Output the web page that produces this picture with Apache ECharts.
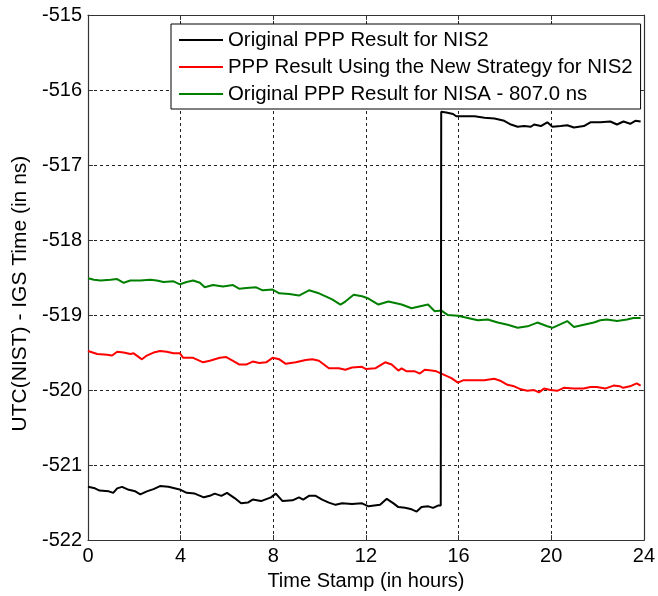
<!DOCTYPE html>
<html>
<head>
<meta charset="utf-8">
<script src="https://cdn.jsdelivr.net/npm/echarts@6/dist/echarts.min.js"></script>
<style>html,body{margin:0;padding:0;background:#fff}#c{width:658px;height:596px}</style>
</head>
<body>
<div id="c"></div>
<script>
var seriesNames = ['Original PPP Result for NIS2', 'PPP Result Using the New Strategy for NIS2', 'Original PPP Result for NISA - 807.0 ns'];
var xTicks = [0, 4, 8, 12, 16, 20, 24];
var yTicks = [-522, -521, -520, -519, -518, -517, -516, -515];

var blackHours = [0.00,0.30,0.50,0.90,1.09,1.26,1.47,1.76,2.04,2.26,2.54,2.83,3.11,3.47,4.00,4.26,4.61,5.00,5.26,5.47,5.76,6.00,6.33,6.61,6.90,7.11,7.47,7.90,8.11,8.40,8.83,9.11,9.29,9.54,9.83,10.11,10.40,10.69,10.97,11.40,11.83,12.11,12.61,12.90,13.19,13.40,13.69,13.97,14.19,14.40,14.69,14.90,15.11,15.23,15.25,15.47,15.76,15.90,16.26,16.69,17.12,17.55,17.97,18.26,18.55,18.83,19.12,19.26,19.55,19.83,20.05,20.41,20.69,20.98,21.41,21.69,22.12,22.55,22.84,23.12,23.41,23.63,23.86];
var blackValues = [-521.29,-521.31,-521.34,-521.35,-521.37,-521.31,-521.29,-521.33,-521.35,-521.39,-521.35,-521.32,-521.28,-521.29,-521.33,-521.37,-521.38,-521.43,-521.41,-521.38,-521.41,-521.37,-521.44,-521.51,-521.50,-521.46,-521.48,-521.43,-521.38,-521.48,-521.47,-521.43,-521.46,-521.41,-521.41,-521.46,-521.50,-521.53,-521.51,-521.52,-521.51,-521.55,-521.53,-521.45,-521.51,-521.56,-521.57,-521.59,-521.62,-521.56,-521.55,-521.57,-521.54,-521.54,-516.29,-516.30,-516.32,-516.35,-516.35,-516.35,-516.37,-516.38,-516.41,-516.46,-516.49,-516.48,-516.49,-516.46,-516.48,-516.43,-516.49,-516.48,-516.47,-516.50,-516.48,-516.43,-516.43,-516.42,-516.46,-516.42,-516.45,-516.41,-516.42];

var redHours = [0.00,0.40,0.83,1.04,1.26,1.54,1.83,1.97,2.33,2.54,2.83,3.11,3.40,3.69,3.97,4.11,4.54,4.97,5.26,5.69,5.97,6.26,6.54,6.83,7.11,7.40,7.69,7.97,8.26,8.54,8.97,9.40,9.69,9.97,10.40,10.83,11.11,11.40,11.83,12.00,12.40,12.83,13.11,13.40,13.54,13.76,14.11,14.33,14.54,14.83,15.04,15.11,15.33,15.69,15.97,16.19,16.54,16.97,17.11,17.54,17.83,18.11,18.40,18.69,18.97,19.26,19.47,19.69,19.97,20.26,20.54,20.97,21.40,21.69,21.97,22.33,22.69,22.97,23.11,23.40,23.69,23.86];
var redValues = [-519.48,-519.52,-519.53,-519.54,-519.49,-519.50,-519.52,-519.51,-519.59,-519.54,-519.50,-519.48,-519.49,-519.51,-519.51,-519.57,-519.57,-519.63,-519.61,-519.57,-519.56,-519.61,-519.66,-519.66,-519.62,-519.64,-519.63,-519.57,-519.59,-519.65,-519.63,-519.60,-519.59,-519.61,-519.71,-519.71,-519.73,-519.70,-519.69,-519.72,-519.71,-519.63,-519.66,-519.74,-519.71,-519.75,-519.75,-519.78,-519.73,-519.74,-519.75,-519.73,-519.79,-519.84,-519.90,-519.87,-519.87,-519.87,-519.87,-519.85,-519.88,-519.93,-519.95,-519.99,-520.01,-520.00,-520.03,-519.98,-520.00,-520.01,-519.97,-519.98,-519.98,-519.96,-519.96,-519.98,-519.94,-519.95,-519.97,-519.95,-519.91,-519.94];

var greenHours = [0.00,0.26,0.54,0.97,1.26,1.54,1.83,2.26,2.69,2.97,3.26,3.69,3.97,4.26,4.54,4.83,5.04,5.40,5.83,6.26,6.54,6.83,7.26,7.54,7.97,8.26,8.69,9.11,9.54,9.97,10.26,10.54,10.90,11.11,11.47,11.83,12.11,12.54,12.97,13.54,13.97,14.25,14.68,14.97,15.26,15.54,15.97,16.40,16.83,17.26,17.69,18.12,18.55,18.98,19.40,19.83,20.05,20.41,20.69,20.98,21.41,21.84,22.12,22.41,22.84,23.27,23.55,23.86];
var greenValues = [-518.51,-518.53,-518.54,-518.53,-518.52,-518.57,-518.54,-518.54,-518.53,-518.54,-518.56,-518.55,-518.59,-518.56,-518.54,-518.57,-518.63,-518.60,-518.62,-518.60,-518.65,-518.64,-518.63,-518.67,-518.66,-518.71,-518.72,-518.74,-518.67,-518.71,-518.75,-518.79,-518.86,-518.82,-518.73,-518.75,-518.78,-518.86,-518.82,-518.86,-518.91,-518.89,-518.86,-518.95,-518.94,-519.00,-519.01,-519.04,-519.07,-519.06,-519.10,-519.13,-519.17,-519.15,-519.10,-519.15,-519.17,-519.12,-519.08,-519.16,-519.13,-519.10,-519.07,-519.06,-519.08,-519.06,-519.04,-519.04];

function zip(xs, ys) { return xs.map(function (x, i) { return [x, ys[i]]; }); }

var FONT = 'Arial, "Liberation Sans", sans-serif';
var chart = echarts.init(document.getElementById('c'), null, { renderer: 'canvas' });
var gridLine = { show: true, lineStyle: { color: '#222', type: [3, 3], width: 1 } };
var tickIn = { show: true, inside: true, length: 5, lineStyle: { color: '#333' } };
var frame = { show: true, onZero: false, lineStyle: { color: '#333', width: 1.2 } };

chart.setOption({
  animation: false,
  backgroundColor: '#fff',
  grid: { left: 88, right: 11, top: 15, bottom: 52, containLabel: false },
  legend: {
    data: seriesNames,
    orient: 'vertical', left: 171, top: 24,
    padding: [6, 8, 5, 8], itemGap: 7, itemWidth: 44, itemHeight: 2,
    icon: 'rect', align: 'left',
    backgroundColor: '#fff', borderColor: '#000', borderWidth: 1,
    textStyle: { fontSize: 20.4, fontFamily: FONT, color: '#000', lineHeight: 20 }
  },
  xAxis: [{
    type: 'value', min: xTicks[0], max: xTicks[xTicks.length - 1], interval: 4,
    name: 'Time Stamp (in hours)', nameLocation: 'middle', nameGap: 23,
    nameTextStyle: { fontSize: 20, fontFamily: FONT, color: '#000' },
    axisLine: frame, axisTick: tickIn, splitLine: gridLine,
    axisLabel: { fontSize: 20, fontFamily: FONT, color: '#000', margin: 6 }
  }, {
    type: 'value', position: 'top', min: xTicks[0], max: xTicks[xTicks.length - 1], interval: 4,
    axisLine: frame, axisTick: tickIn, splitLine: { show: false }, axisLabel: { show: false }
  }],
  yAxis: [{
    type: 'value', min: yTicks[0], max: yTicks[yTicks.length - 1], interval: 1,
    name: 'UTC(NIST) - IGS Time (in ns)', nameLocation: 'middle', nameGap: 56,
    nameTextStyle: { fontSize: 21, fontFamily: FONT, color: '#000', padding: [0, 32, 0, 0] },
    axisLine: frame, axisTick: tickIn, splitLine: gridLine,
    axisLabel: { fontSize: 20, fontFamily: FONT, color: '#000', margin: 6 }
  }, {
    type: 'value', position: 'right', min: yTicks[0], max: yTicks[yTicks.length - 1], interval: 1,
    axisLine: frame, axisTick: tickIn, splitLine: { show: false }, axisLabel: { show: false }
  }],
  series: [
    { name: seriesNames[2], type: 'line', data: zip(greenHours, greenValues), showSymbol: false, color: '#008000', lineStyle: { width: 2, color: '#008000' }, z: 2 },
    { name: seriesNames[1], type: 'line', data: zip(redHours, redValues), showSymbol: false, color: '#ff0000', lineStyle: { width: 2, color: '#ff0000' }, z: 3 },
    { name: seriesNames[0], type: 'line', data: zip(blackHours, blackValues), showSymbol: false, color: '#000000', lineStyle: { width: 2, color: '#000000' }, z: 4 }
  ]
});
</script>
</body>
</html>
